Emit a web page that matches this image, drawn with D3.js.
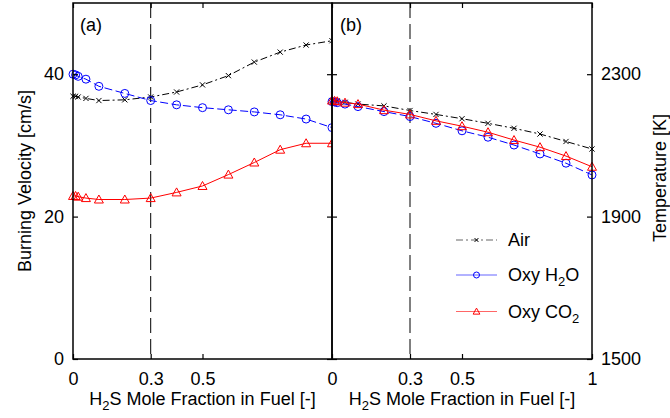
<!DOCTYPE html>
<meta charset="utf-8">
<style>
body { margin: 0; background: #fff; }
svg { font-family: "Liberation Sans", Arial, sans-serif; }
.axis text { font-size: 18px; fill: #000; }
.axis line { stroke: #000; stroke-width: 1.2px; }
.axis path { display: none; }
.frame { fill: none; stroke: #000; stroke-width: 1.5px; }
.lbl { font-size: 18px; fill: #000; }
</style>
<body>
<div id="chart"></div>
<script src="https://cdn.jsdelivr.net/npm/d3@7"></script>
<script>

// H2S mole fraction in fuel
var xFrac = [0, 0.01, 0.02, 0.05, 0.1, 0.2, 0.3, 0.4, 0.5, 0.6, 0.7, 0.8, 0.9, 1];

// (a) burning velocity [cm/s]
var slAir = [36.9, 36.9, 36.8, 36.6, 36.3, 36.4, 36.8, 37.5, 38.5, 39.8, 41.7, 43.1, 44.1, 44.7];
var slH2O = [40.0, 39.9, 39.7, 39.3, 38.3, 37.3, 36.3, 35.7, 35.3, 35.0, 34.7, 34.3, 33.7, 32.5];
var slCO2 = [22.9, 22.9, 22.8, 22.6, 22.4, 22.4, 22.6, 23.4, 24.3, 25.9, 27.6, 29.4, 30.3, 30.3];

// (b) adiabatic temperature [K]
var tAir = [2226, 2226, 2225, 2221, 2216, 2211, 2198, 2187, 2175, 2162, 2148, 2132, 2111, 2090];
var tH2O = [2223, 2222, 2220, 2216, 2209, 2195, 2181, 2162, 2141, 2123, 2101, 2076, 2050, 2017];
var tCO2 = [2226, 2225, 2224, 2220, 2216, 2199, 2187, 2169, 2154, 2137, 2115, 2095, 2070, 2040];

var slTicks = [0, 20, 40];
var tTicks = [1500, 1900, 2300];
var xTicksA = [0, 0.3, 0.5];
var xTicksB = [0, 0.3, 0.5, 1];
var xMark = 0.3;

var W = 670, H = 418,
    pLeft = 73, pMid = 332, pRight = 592, pTop = 3, pBottom = 359;

var svg = d3.select("#chart").append("svg")
  .attr("width", W).attr("height", H);

var xA = d3.scaleLinear().domain([0, 1]).range([pLeft, pMid]);
var xB = d3.scaleLinear().domain([0, 1]).range([pMid, pRight]);
var yS = d3.scaleLinear().domain([0, 50]).range([pBottom, pTop]);
var yT = d3.scaleLinear().domain([1500, 2500]).range([pBottom, pTop]);

var series = [
  {name: "air", a: slAir, b: tAir, color: "#000", dash: "7,3,2,3", mark: "x"},
  {name: "h2o", a: slH2O, b: tH2O, color: "#0000ff", dash: "8,3.5", mark: "o"},
  {name: "co2", a: slCO2, b: tCO2, color: "#ff0000", dash: null, mark: "^"}
];

function marker(g, type, color, s) {
  if (type == "o") {
    g.append("circle").attr("r", 4 * s).attr("fill", "none")
      .attr("stroke", color).attr("stroke-width", 1);
  } else if (type == "^") {
    g.append("path").attr("d", "M0," + (-4.5 * s) + "L" + (4.5 * s) + "," + (3.5 * s) + "L" + (-4.5 * s) + "," + (3.5 * s) + "Z")
      .attr("fill", "none").attr("stroke", color).attr("stroke-width", 1);
  } else {
    var k = 2.6 * s;
    g.append("path").attr("d", "M" + -k + "," + -k + "L" + k + "," + k + "M" + -k + "," + k + "L" + k + "," + -k)
      .attr("stroke", color).attr("stroke-width", 1);
  }
}

function drawPanel(x, y, key, x0, x1) {
  var g = svg.append("g");
  g.append("rect").attr("x", x0).attr("y", pTop).attr("width", x1 - x0).attr("height", pBottom - pTop)
    .attr("fill", "#fff");
  // vertical dashed reference line
  g.append("line")
    .attr("x1", x(xMark)).attr("x2", x(xMark)).attr("y1", pTop).attr("y2", pBottom)
    .attr("stroke", "#000").attr("stroke-width", 1).attr("stroke-dasharray", "15,6");
  series.forEach(function(s) {
    var vals = s[key];
    var line = d3.line().x(function(d, i) { return x(xFrac[i]); }).y(function(d) { return y(d); });
    g.append("path").datum(vals).attr("d", line)
      .attr("fill", "none").attr("stroke", s.color).attr("stroke-width", 1)
      .attr("stroke-dasharray", s.dash);
    vals.forEach(function(v, i) {
      var m = g.append("g").attr("transform", "translate(" + x(xFrac[i]) + "," + y(v) + ")");
      marker(m, s.mark, s.color, 1);
    });
  });
  return g;
}

drawPanel(xA, yS, "a", pLeft, pMid);
drawPanel(xB, yT, "b", pMid, pRight);

// frames
svg.append("rect").attr("class", "frame").attr("x", pLeft).attr("y", pTop)
  .attr("width", pMid - pLeft).attr("height", pBottom - pTop);
svg.append("rect").attr("class", "frame").attr("x", pMid).attr("y", pTop)
  .attr("width", pRight - pMid).attr("height", pBottom - pTop);

var fmt = function(d) { return String(d); };

// axes, ticks pointing inward
svg.append("g").attr("class", "axis").attr("transform", "translate(" + pLeft + ",0)")
  .call(d3.axisLeft(yS).tickValues(slTicks).tickSize(-5).tickSizeOuter(0).tickPadding(9).tickFormat(fmt));
svg.append("g").attr("class", "axis").attr("transform", "translate(" + pMid + ",0)")
  .call(d3.axisRight(yS).tickValues(slTicks).tickSize(-5).tickSizeOuter(0).tickFormat(""));
svg.append("g").attr("class", "axis").attr("transform", "translate(" + pMid + ",0)")
  .call(d3.axisLeft(yT).tickValues(tTicks).tickSize(-5).tickSizeOuter(0).tickFormat(""));
svg.append("g").attr("class", "axis").attr("transform", "translate(" + pRight + ",0)")
  .call(d3.axisRight(yT).tickValues(tTicks).tickSize(-5).tickSizeOuter(0).tickPadding(9).tickFormat(fmt));

svg.append("g").attr("class", "axis").attr("transform", "translate(0," + pBottom + ")")
  .call(d3.axisBottom(xA).tickValues(xTicksA).tickSize(-5).tickSizeOuter(0).tickPadding(13).tickFormat(fmt));
svg.append("g").attr("class", "axis").attr("transform", "translate(0," + pBottom + ")")
  .call(d3.axisBottom(xB).tickValues(xTicksB).tickSize(-5).tickSizeOuter(0).tickPadding(13).tickFormat(fmt));
svg.append("g").attr("class", "axis").attr("transform", "translate(0," + pTop + ")")
  .call(d3.axisTop(xA).tickValues(xTicksA).tickSize(-5).tickSizeOuter(0).tickFormat(""));
svg.append("g").attr("class", "axis").attr("transform", "translate(0," + pTop + ")")
  .call(d3.axisTop(xB).tickValues(xTicksB).tickSize(-5).tickSizeOuter(0).tickFormat(""));

// panel labels
svg.append("text").attr("class", "lbl").attr("x", 80).attr("y", 31).text("(a)");
svg.append("text").attr("class", "lbl").attr("x", 340).attr("y", 31).text("(b)");

// axis titles
svg.append("text").attr("class", "lbl").attr("text-anchor", "middle")
  .attr("transform", "translate(31,181) rotate(-90)").text("Burning Velocity [cm/s]");
svg.append("text").attr("class", "lbl").attr("text-anchor", "middle")
  .attr("transform", "translate(666,178) rotate(-90)").text("Temperature [K]");

function subText(x, y, a, sub, b, anchor) {
  var t = svg.append("text").attr("class", "lbl").attr("x", x).attr("y", y)
    .attr("text-anchor", anchor);
  t.append("tspan").text(a);
  t.append("tspan").attr("dy", 5).style("font-size", "13px").text(sub);
  t.append("tspan").attr("dy", -5).text(b);
}
subText((pLeft + pMid) / 2, 405, "H", "2", "S Mole Fraction in Fuel [-]", "middle");
subText((pMid + pRight) / 2, 405, "H", "2", "S Mole Fraction in Fuel [-]", "middle");

// legend
var legend = [
  {label: ["Air", "", ""], s: series[0], y: 240},
  {label: ["Oxy H", "2", "O"], s: series[1], y: 275},
  {label: ["Oxy CO", "2", ""], s: series[2], y: 311.5}
];
legend.forEach(function(l) {
  svg.append("line").attr("x1", 456).attr("x2", 497).attr("y1", l.y).attr("y2", l.y)
    .attr("stroke", l.s.color).attr("stroke-opacity", 0.6).attr("stroke-width", 1.2)
    .attr("stroke-dasharray", l.s.name == "air" ? "7,3,2,3" : null);
  var m = svg.append("g").attr("transform", "translate(476.5," + l.y + ")");
  marker(m, l.s.mark, l.s.color, 0.75);
  subText(508, l.y + 6, l.label[0], l.label[1], l.label[2], "start");
});

</script>
</body>
